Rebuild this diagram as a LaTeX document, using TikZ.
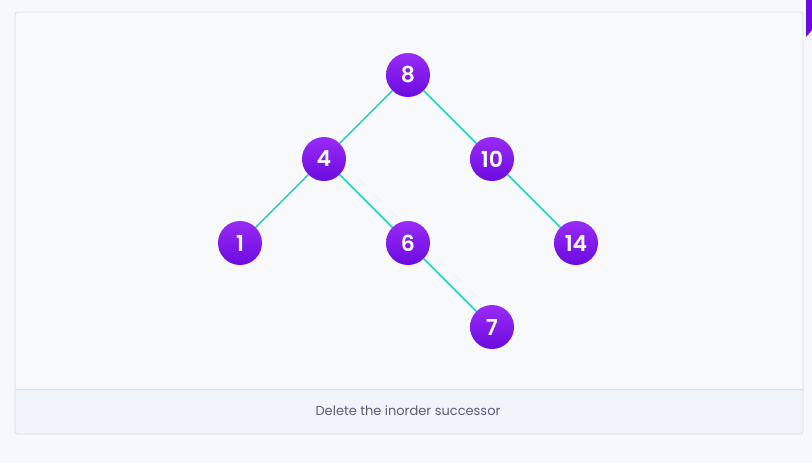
\documentclass[tikz,border=0pt]{standalone}
\usepackage{fontspec}
\setmainfont{Poppins}
\newfontfamily\keyfont{Poppins SemiBold}
\usepackage{xcolor}
\usetikzlibrary{positioning}
\definecolor{pagebg}{HTML}{F7F8FB}
\definecolor{cardbg}{HTML}{F8F9FB}
\definecolor{cardline}{HTML}{D9DCE4}
\definecolor{footbg}{HTML}{F0F4FB}
\definecolor{nodetop}{HTML}{9A2BF6}
\definecolor{nodebot}{HTML}{6A0BDF}
\definecolor{linkteal}{HTML}{22D3C0}
\definecolor{captext}{HTML}{5C5C78}

\begin{document}
\begin{tikzpicture}[x=1pt,y=-1pt,node distance=118.8pt,
  key/.style={circle,minimum size=44pt,inner sep=0pt,top color=nodetop,bottom color=nodebot,
    text=white,font=\fontsize{22}{22}\keyfont},
  link/.style={draw=linkteal,line width=1.6pt}]
% page and card
\fill[pagebg] (0,0) rectangle (812,463);
\fill[cardbg,rounded corners=3pt] (15,12) rectangle (803,434);
\fill[footbg,rounded corners=3pt] (15.4,389) rectangle (802.6,433.6);
\draw[cardline,line width=0.8pt] (15,389) -- (803,389);
\draw[cardline,line width=0.8pt,rounded corners=3pt] (15,12) rectangle (803,434);
\fill[nodebot] (806,0) -- (812,0) -- (812,30) -- (806,37) -- cycle;

% tree
\node[key] (k8) at (408,75) {8};
\node[key,below left of=k8] (k4) {4};
\node[key,below right of=k8] (k10) {10};
\node[key,below left of=k4] (k1) {1};
\node[key,below right of=k4] (k6) {6};
\node[key,below right of=k10] (k14) {14};
\node[key,below right of=k6] (k7) {7};
\draw[link] (k8)--(k4); \draw[link] (k8)--(k10);
\draw[link] (k4)--(k1); \draw[link] (k4)--(k6);
\draw[link] (k10)--(k14); \draw[link] (k6)--(k7);

\node[text=captext,font=\fontsize{13}{13}\selectfont] (cap) at (408,411) {Delete the inorder successor};
\end{tikzpicture}
\end{document}
